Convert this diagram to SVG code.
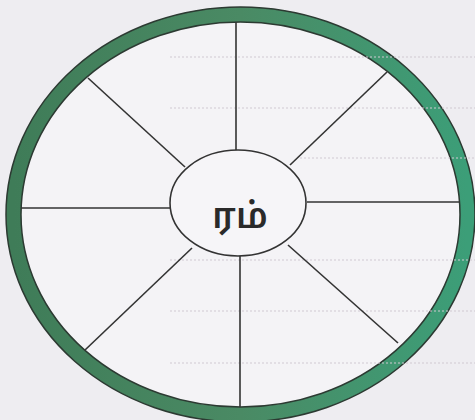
<svg xmlns="http://www.w3.org/2000/svg" width="475" height="420" viewBox="0 0 475 420">
<defs>
<linearGradient id="ringGrad" x1="0" y1="0" x2="1" y2="0">
<stop offset="0" stop-color="#3f7c58"/>
<stop offset="0.5" stop-color="#4a8a64"/>
<stop offset="1" stop-color="#3c9e78"/>
</linearGradient>
</defs>
<style>
.bg{fill:#eeedf1}
.dots{stroke:#cfc9d2;stroke-width:1.2;stroke-dasharray:2 2;fill:none}
.edge{fill:none;stroke:#2c3a32;stroke-width:1.5}
.spoke{stroke:#333333;stroke-width:1.6;fill:none}
.hub{fill:#f6f5f8;stroke:#333333;stroke-width:1.6}
.lbl{font-family:"Noto Sans Tamil","Noto Sans","Lato",sans-serif;font-size:35px;font-weight:600;fill:#2a2a2a;text-anchor:middle}
</style>
<rect class="bg" x="0" y="0" width="475" height="420"/>
<g id="wheel">
<ellipse cx="240.5" cy="214.5" rx="227" ry="200" fill="#f4f3f6" stroke="url(#ringGrad)" stroke-width="15"/>
<ellipse class="edge" cx="240.5" cy="214.5" rx="234.5" ry="207.5"/>
<ellipse class="edge" cx="240.5" cy="214.5" rx="219.5" ry="192.5"/>
</g>
<g id="ruling">
<line class="dots" x1="170" y1="57" x2="475" y2="57"/>
<line class="dots" x1="170" y1="108" x2="475" y2="108"/>
<line class="dots" x1="300" y1="158" x2="475" y2="158"/>
<line class="dots" x1="170" y1="260" x2="475" y2="260"/>
<line class="dots" x1="170" y1="311" x2="475" y2="311"/>
<line class="dots" x1="170" y1="363" x2="475" y2="363"/>
</g>
<g id="connectors">
<line class="spoke" x1="236" y1="22" x2="236" y2="150"/>
<line class="spoke" x1="240" y1="256" x2="240" y2="407"/>
<line class="spoke" x1="21" y1="208" x2="170" y2="208"/>
<line class="spoke" x1="307" y1="202" x2="460" y2="202"/>
<line class="spoke" x1="88" y1="78" x2="185" y2="167"/>
<line class="spoke" x1="387" y1="72" x2="290" y2="165"/>
<line class="spoke" x1="192" y1="248" x2="85" y2="350"/>
<line class="spoke" x1="288" y1="245" x2="398" y2="343"/>
</g>
<g id="hub">
<ellipse class="hub" cx="238" cy="203" rx="68" ry="53"/>
<text class="lbl" x="240" y="228">ரம்</text>
</g>
</svg>
